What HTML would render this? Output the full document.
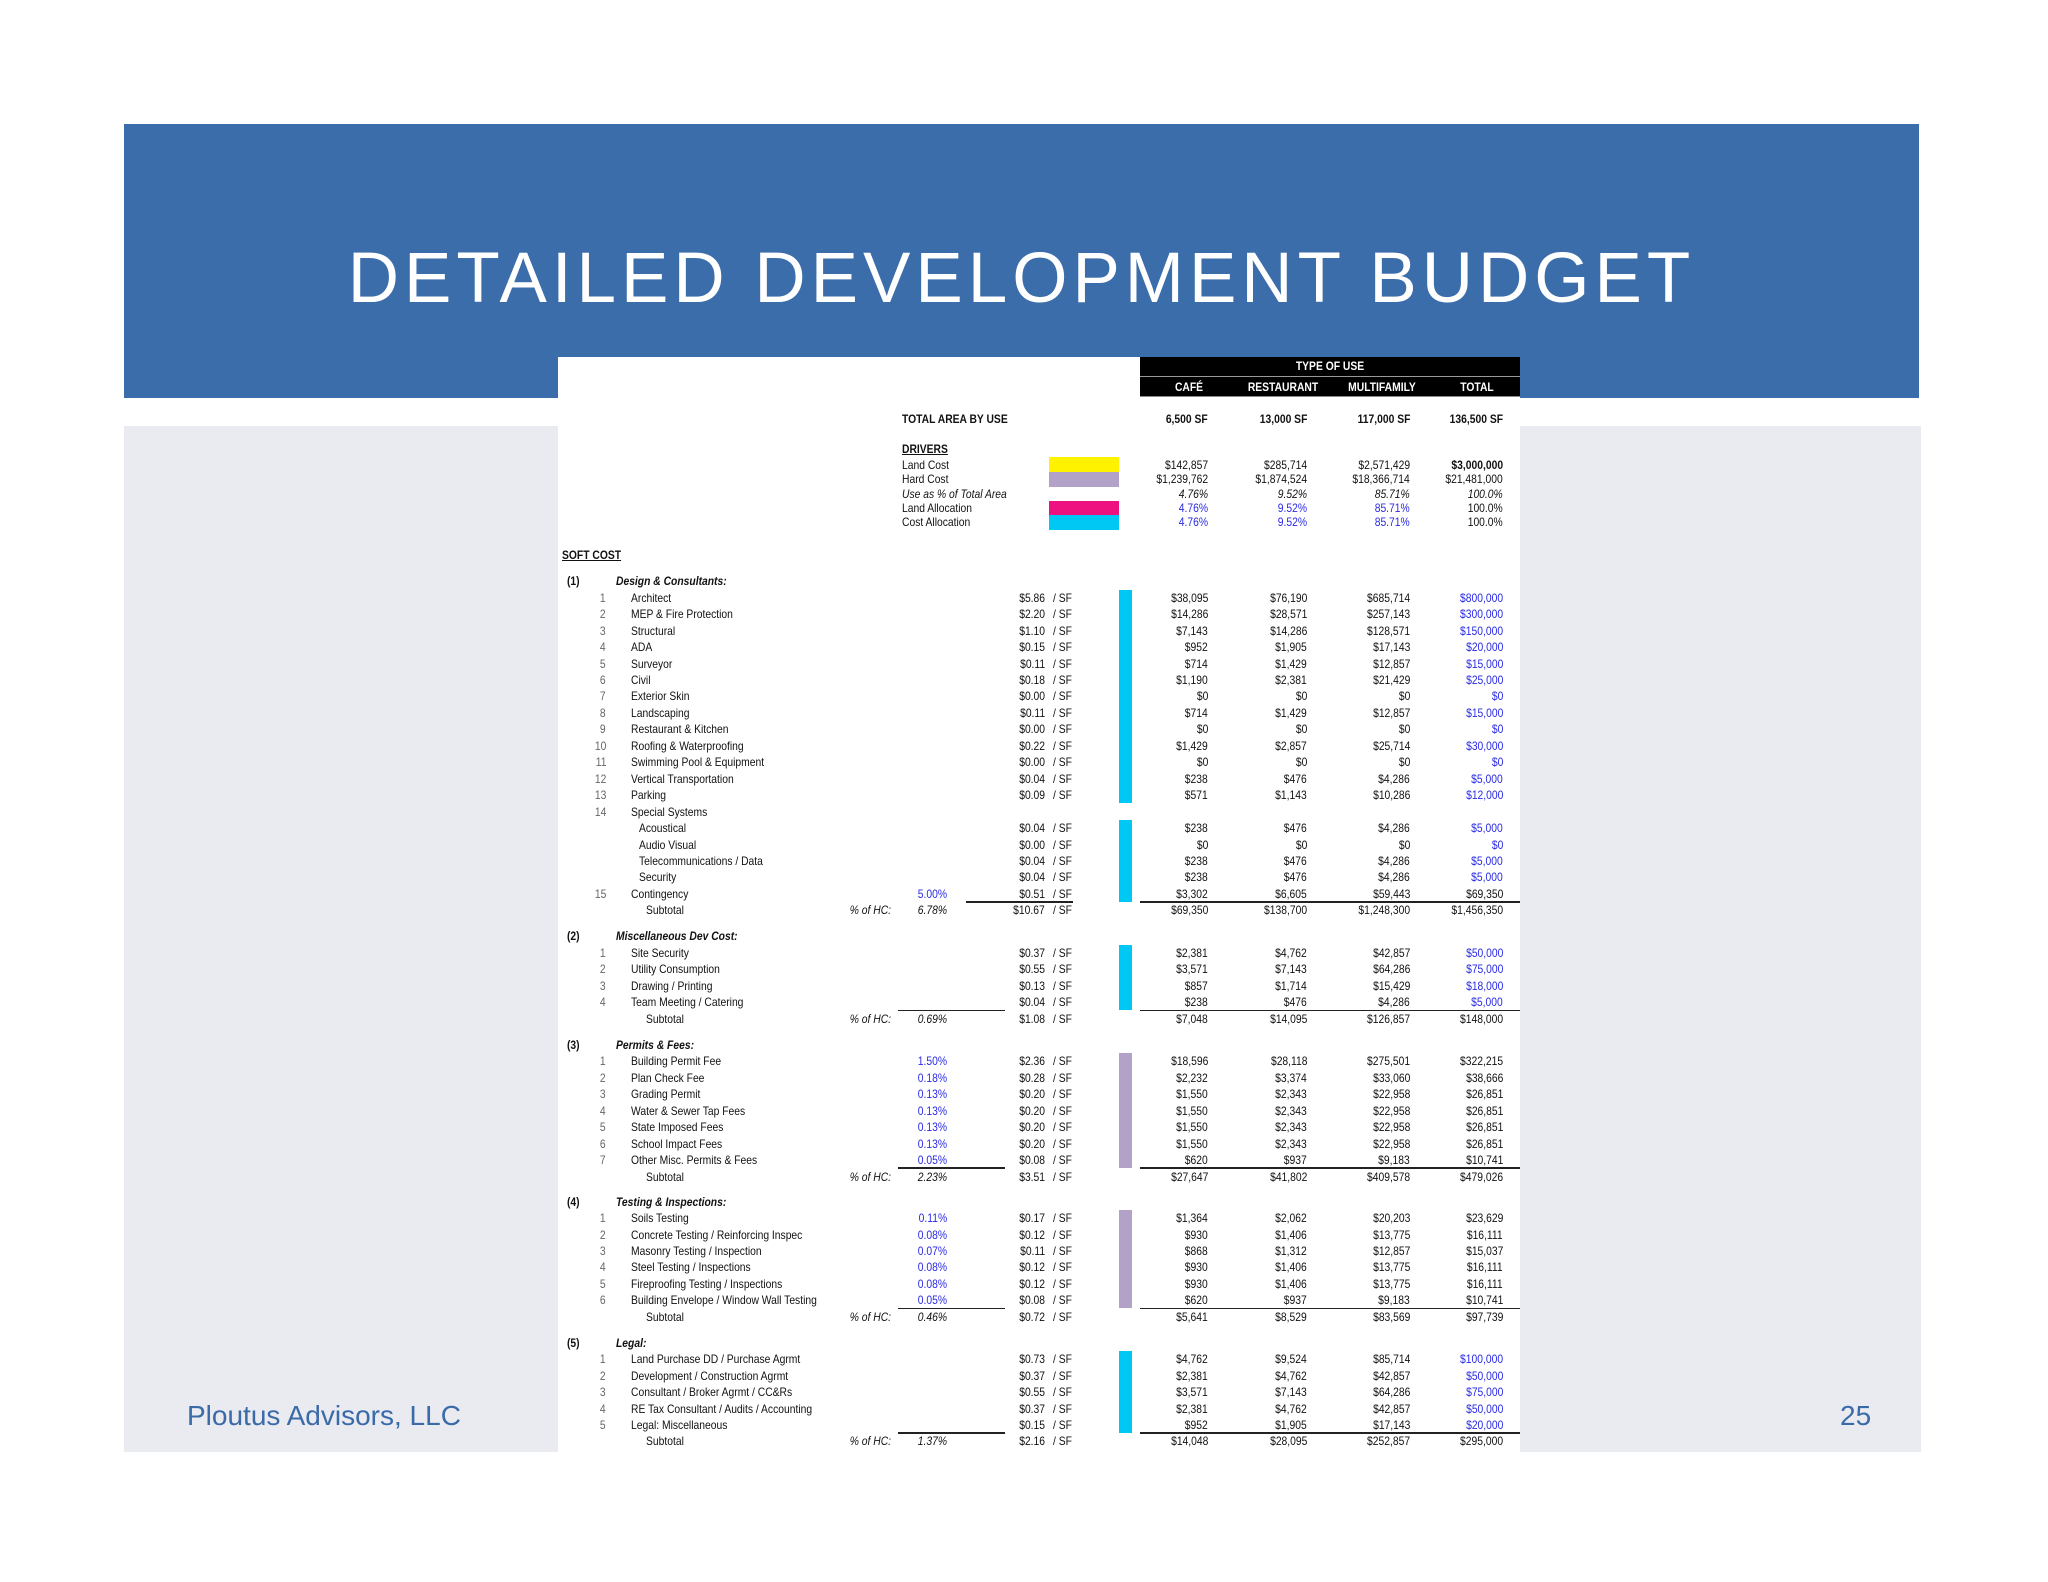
<!DOCTYPE html>
<html><head><meta charset="utf-8"><style>
body{margin:0;background:#fff;}
#page{position:relative;width:2048px;height:1582px;overflow:hidden;background:#fff;font-family:"Liberation Sans Narrow","Liberation Sans",sans-serif;}
.t{position:absolute;font-size:12px;line-height:16px;white-space:nowrap;color:#111;transform:scaleX(0.86);transform-origin:left center;}
.t.ra{transform-origin:right center}
.t.ca{transform-origin:center center}
.b{font-weight:bold}.i{font-style:italic}.u{text-decoration:underline}
.blue{color:#2a2ae6}.g{color:#666}
</style></head><body>
<div id="page">
<div style="position:absolute;left:124px;top:124px;width:1795px;height:274px;background:#3c6dab"></div>
<div style="position:absolute;left:124px;width:1795px;top:236px;text-align:center;font-family:'Liberation Sans',sans-serif;font-size:71px;letter-spacing:5px;color:#fff;line-height:86px">DETAILED DEVELOPMENT BUDGET</div>
<div style="position:absolute;left:124px;top:426px;width:1797px;height:1026px;background:#e9ebf0"></div>
<div style="position:absolute;left:558px;top:357px;width:962px;height:1095px;background:#fff"></div>
<div style="position:absolute;left:1140px;top:357px;width:380px;height:39px;background:#000;border-bottom:1px solid #888"></div>
<div style="position:absolute;left:1140px;top:376px;width:380px;height:1px;background:#999"></div>
<div style="position:absolute;left:187px;top:1400px;font-family:'Liberation Sans',sans-serif;font-size:28px;color:#3a6aa8">Ploutus Advisors, LLC</div>
<div style="position:absolute;left:1840px;top:1400px;font-family:'Liberation Sans',sans-serif;font-size:28px;color:#3a6aa8">25</div>
</div>
<script>
const S=2048/1568;
const page=document.getElementById('page');
function T(x,yd,txt,cls,align,name){
  const d=document.createElement('div');
  
  
  d.className='t '+(cls||'')+(align==='r'?' ra':align==='c'?' ca':'');
  d.textContent=txt;
  d.style.top=(yd*S-8)+'px';
  if(align==='r'){d.style.right=(2048-x)+'px';}
  else if(align==='c'){d.style.left=(x-100)+'px';d.style.width='200px';d.style.textAlign='center';}
  else d.style.left=x+'px';
  page.appendChild(d);return d;
}
function R(x,y,w,h,c,name){
  const d=document.createElement('div');
  
  
  d.style.cssText=`position:absolute;left:${x}px;top:${y}px;width:${w}px;height:${h}px;background:${c}`;
  page.appendChild(d);
}
const colC=[1189,1283,1382,1477], colR=[1208,1307,1410,1503];
T(1330,280,'TYPE OF USE','b','c','type-of-use-header').style.color='#fff';
['CAFÉ','RESTAURANT','MULTIFAMILY','TOTAL'].forEach((h,i)=>{T(colC[i],296,h,'b','c','column-header').style.color='#fff';});
T(902,321,'TOTAL AREA BY USE','b',null,'total-area-label');
['6,500 SF','13,000 SF','117,000 SF','136,500 SF'].forEach((v,i)=>T(colR[i],321,v,'b','r','total-area-value'));
T(902,344,'DRIVERS','b u',null,'drivers-label');
const drv=[['Land Cost',356,'#fff200',['$142,857','$285,714','$2,571,429','$3,000,000'],'', 'b3'],
['Hard Cost',367,'#b3a2c8',['$1,239,762','$1,874,524','$18,366,714','$21,481,000'],'',''],
['Use as % of Total Area',378,null,['4.76%','9.52%','85.71%','100.0%'],'i','i'],
['Land Allocation',389,'#ee1280',['4.76%','9.52%','85.71%','100.0%'],'blue',''],
['Cost Allocation',400,'#00c8f5',['4.76%','9.52%','85.71%','100.0%'],'blue','']];
drv.forEach(d=>{
  T(902,d[1],d[0],d[4]==='i'?'i':'',null,'driver-label');
  if(d[2])R(1049,d[1]*S-7.5,70,15,d[2],'driver-swatch');
  d[3].forEach((v,i)=>T(colR[i],d[1],v,i<3?d[4]:(d[5]==='b3'?'b':d[5]),'r','driver-value'));
});
T(562,425,'SOFT COST','b u',null,'soft-cost-title');
const sections=[
{n:'(1)',title:'Design & Consultants:',y:445,bar:'#00c8f5',tb:true,rows:[
['1','Architect','','$5.86','$38,095','$76,190','$685,714','$800,000'],
['2','MEP & Fire Protection','','$2.20','$14,286','$28,571','$257,143','$300,000'],
['3','Structural','','$1.10','$7,143','$14,286','$128,571','$150,000'],
['4','ADA','','$0.15','$952','$1,905','$17,143','$20,000'],
['5','Surveyor','','$0.11','$714','$1,429','$12,857','$15,000'],
['6','Civil','','$0.18','$1,190','$2,381','$21,429','$25,000'],
['7','Exterior Skin','','$0.00','$0','$0','$0','$0'],
['8','Landscaping','','$0.11','$714','$1,429','$12,857','$15,000'],
['9','Restaurant & Kitchen','','$0.00','$0','$0','$0','$0'],
['10','Roofing & Waterproofing','','$0.22','$1,429','$2,857','$25,714','$30,000'],
['11','Swimming Pool & Equipment','','$0.00','$0','$0','$0','$0'],
['12','Vertical Transportation','','$0.04','$238','$476','$4,286','$5,000'],
['13','Parking','','$0.09','$571','$1,143','$10,286','$12,000'],
['14','Special Systems',null],
['','Acoustical','','$0.04','$238','$476','$4,286','$5,000'],
['','Audio Visual','','$0.00','$0','$0','$0','$0'],
['','Telecommunications / Data','','$0.04','$238','$476','$4,286','$5,000'],
['','Security','','$0.04','$238','$476','$4,286','$5,000'],
['15','Contingency','5.00%','$0.51','$3,302','$6,605','$59,443','$69,350','k']],
sub:['6.78%','$10.67','$69,350','$138,700','$1,248,300','$1,456,350'],bars:[[0,12],[14,18]]},
{n:'(2)',title:'Miscellaneous Dev Cost:',y:717,bar:'#00c8f5',tb:true,rows:[
['1','Site Security','','$0.37','$2,381','$4,762','$42,857','$50,000'],
['2','Utility Consumption','','$0.55','$3,571','$7,143','$64,286','$75,000'],
['3','Drawing / Printing','','$0.13','$857','$1,714','$15,429','$18,000'],
['4','Team Meeting  / Catering','','$0.04','$238','$476','$4,286','$5,000']],
sub:['0.69%','$1.08','$7,048','$14,095','$126,857','$148,000'],bars:[[0,3]]},
{n:'(3)',title:'Permits & Fees:',y:800,bar:'#b3a2c8',tb:false,rows:[
['1','Building Permit Fee','1.50%','$2.36','$18,596','$28,118','$275,501','$322,215'],
['2','Plan Check Fee','0.18%','$0.28','$2,232','$3,374','$33,060','$38,666'],
['3','Grading Permit','0.13%','$0.20','$1,550','$2,343','$22,958','$26,851'],
['4','Water & Sewer Tap Fees','0.13%','$0.20','$1,550','$2,343','$22,958','$26,851'],
['5','State Imposed Fees','0.13%','$0.20','$1,550','$2,343','$22,958','$26,851'],
['6','School Impact Fees','0.13%','$0.20','$1,550','$2,343','$22,958','$26,851'],
['7','Other Misc. Permits & Fees','0.05%','$0.08','$620','$937','$9,183','$10,741']],
sub:['2.23%','$3.51','$27,647','$41,802','$409,578','$479,026'],bars:[[0,6]]},
{n:'(4)',title:'Testing & Inspections:',y:920,bar:'#b3a2c8',tb:false,rows:[
['1','Soils Testing','0.11%','$0.17','$1,364','$2,062','$20,203','$23,629'],
['2','Concrete Testing / Reinforcing Inspec','0.08%','$0.12','$930','$1,406','$13,775','$16,111'],
['3','Masonry Testing / Inspection','0.07%','$0.11','$868','$1,312','$12,857','$15,037'],
['4','Steel Testing / Inspections','0.08%','$0.12','$930','$1,406','$13,775','$16,111'],
['5','Fireproofing Testing / Inspections','0.08%','$0.12','$930','$1,406','$13,775','$16,111'],
['6','Building Envelope / Window Wall Testing','0.05%','$0.08','$620','$937','$9,183','$10,741']],
sub:['0.46%','$0.72','$5,641','$8,529','$83,569','$97,739'],bars:[[0,5]]},
{n:'(5)',title:'Legal:',y:1028,bar:'#00c8f5',tb:true,rows:[
['1','Land Purchase DD / Purchase Agrmt','','$0.73','$4,762','$9,524','$85,714','$100,000'],
['2','Development / Construction Agrmt','','$0.37','$2,381','$4,762','$42,857','$50,000'],
['3','Consultant / Broker Agrmt / CC&Rs','','$0.55','$3,571','$7,143','$64,286','$75,000'],
['4','RE Tax Consultant / Audits / Accounting','','$0.37','$2,381','$4,762','$42,857','$50,000'],
['5','Legal: Miscellaneous','','$0.15','$952','$1,905','$17,143','$20,000']],
sub:['1.37%','$2.16','$14,048','$28,095','$252,857','$295,000'],bars:[[0,4]]}];
const P=12.6;
sections.forEach(s=>{
  T(567,s.y,s.n,'b',null,'section-number');
  T(616,s.y,s.title,'b i',null,'section-title');
  const ys=[];
  s.rows.forEach((r,k)=>{
    const y=s.y+P*(k+1);ys.push(y);
    if(r[0])T(606,y,r[0],'g','r','item-number');
    T(r[0]?631:639,y,r[1],'',null,'item-label');
    if(r[2]===null)return;
    if(r[2])T(947,y,r[2],'blue','r','item-percent');
    T(1045,y,r[3],'','r','item-per-sf');
    T(1053,y,'/ SF','',null,'unit-label');
    for(let i=0;i<4;i++)T(colR[i],y,r[4+i],(i===3&&s.tb&&r[8]!=='k')?'blue':'','r','item-value');
  });
  s.bars.forEach(b=>{const y0=ys[b[0]]*S-8,y1=ys[b[1]]*S+8;R(1119,y0,13,y1-y0,s.bar,'allocation-bar');});
  const y=s.y+P*(s.rows.length+1);
  const ly=(y-P/2)*S-1;
  R(s.n==='(1)'?966:898,ly,107,1.5,'#222','subtotal-rule');
  R(1140,ly,380,1.5,'#222','subtotal-rule');
  T(646,y,'Subtotal','',null,'subtotal-label');
  T(891,y,'% of HC:','i','r','hc-label');
  T(947,y,s.sub[0],'i','r','subtotal-percent');
  T(1045,y,s.sub[1],'','r','subtotal-per-sf');
  T(1053,y,'/ SF','',null,'unit-label');
  for(let i=0;i<4;i++)T(colR[i],y,s.sub[2+i],'','r','subtotal-value');
});
</script>
</body></html>
